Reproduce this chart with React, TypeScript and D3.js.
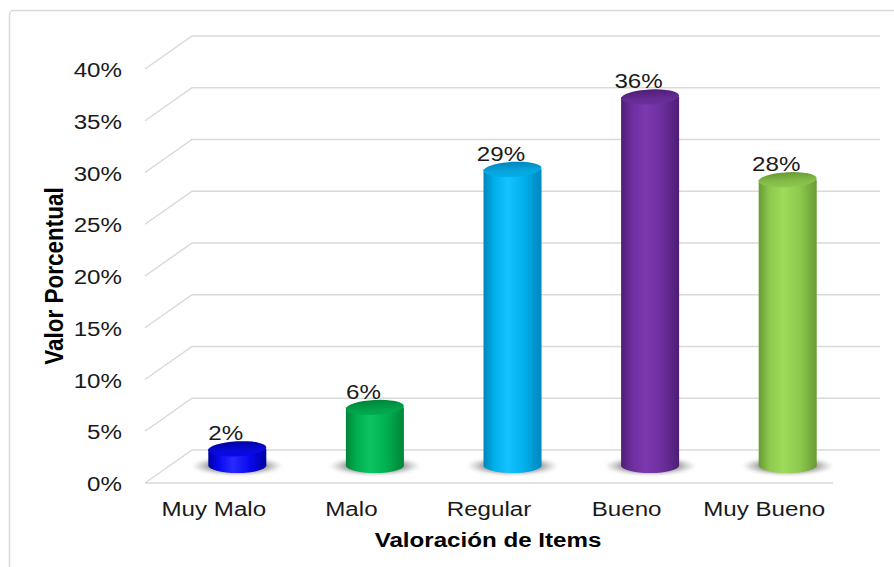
import React from 'react';
import * as d3 from 'd3';

const categories = ['Muy Malo', 'Malo', 'Regular', 'Bueno', 'Muy Bueno'];
const values = [2, 6, 29, 36, 28];
const valueLabels = ['2%', '6%', '29%', '36%', '28%'];
const ticks = [0, 5, 10, 15, 20, 25, 30, 35, 40];
const palette = [
  { dark: '#0000a0', base: '#0808ee', light: '#2a2aff', top: '#0a0ad8' },
  { dark: '#00843a', base: '#00ad4e', light: '#0cc462', top: '#00a04a' },
  { dark: '#0086bd', base: '#00aeea', light: '#14c2ff', top: '#08a4dc' },
  { dark: '#4e1d74', base: '#6c2e9c', light: '#7c38b0', top: '#652b94' },
  { dark: '#689a34', base: '#8cc84c', light: '#9edc5c', top: '#84bc48' },
];

const W = 894;
const H = 567;
const FONT = "'Liberation Sans', Arial, sans-serif";

const T = ({ x, y, anchor = 'middle', size = 21, bold = false, rotate = 0, fill = '#1a1a1a', children }: any) => (
  <text
    transform={`translate(${x},${y}) scale(1.15,1)${rotate ? ` rotate(${rotate})` : ''}`}
    textAnchor={anchor}
    fontSize={size}
    fontWeight={bold ? 'bold' : 'normal'}
    fontFamily={FONT}
    fill={fill}
  >
    {children}
  </text>
);

export default function App() {
  const frontLeft = 145;
  const frontRight = 833;
  const dx = 47;
  const dy = 33;
  const yFront = d3.scaleLinear().domain([0, 40]).range([483, 69]);
  const x = d3.scaleBand<string>().domain(categories).range([frontLeft, frontRight]);
  const bw = x.bandwidth();
  const barTop = d3.scaleLinear().domain([0, 40]).range([469.5, 469.5 - 414]);
  const baseY = 465.5;
  const r = 29;
  const ry = 7.5;

  return (
    <svg width={W} height={H} style={{ position: 'absolute', left: 0, top: 0 }}>
      <defs>
        {palette.map((c, i) => (
          <linearGradient key={i} id={`body${i}`} x1="0" x2="1" y1="0" y2="0">
            <stop offset="0" stopColor={c.dark} />
            <stop offset="0.18" stopColor={c.base} />
            <stop offset="0.42" stopColor={c.light} />
            <stop offset="0.72" stopColor={c.base} />
            <stop offset="1" stopColor={c.dark} />
          </linearGradient>
        ))}
        {palette.map((c, i) => (
          <linearGradient key={i} id={`top${i}`} x1="0" x2="0" y1="0" y2="1">
            <stop offset="0" stopColor={c.dark} />
            <stop offset="0.6" stopColor={c.top} />
            <stop offset="1" stopColor={c.base} />
          </linearGradient>
        ))}
        <radialGradient id="shadow" cx="0.5" cy="0.5" r="0.5">
          <stop offset="0" stopColor="#333" stopOpacity="0.9" />
          <stop offset="0.6" stopColor="#555" stopOpacity="0.6" />
          <stop offset="1" stopColor="#888" stopOpacity="0" />
        </radialGradient>
        <filter id="blur" x="-20%" y="-50%" width="140%" height="200%">
          <feGaussianBlur stdDeviation="1.5" />
        </filter>
      </defs>
      <rect x={9.5} y={10.5} width={W + 20} height={H + 20} rx={4} fill="#fff" stroke="#d9d9d9" strokeWidth={1.5} />

      {/* gridlines: side wall diagonals + back wall */}
      {ticks.map((t) => (
        <g key={t}>
          <polyline
            points={`${frontLeft},${yFront(t)} ${frontLeft + dx},${yFront(t) - dy} ${t === 0 ? frontRight + dx : 880},${yFront(t) - dy}`}
            fill="none"
            stroke="#d9d9d9"
            strokeWidth={1.5}
          />
        </g>
      ))}
      {/* floor front edge */}
      <line x1={frontLeft} x2={frontRight} y1={yFront(0)} y2={yFront(0)} stroke="#d9d9d9" strokeWidth={1.5} />

      {/* tick labels */}
      {ticks.map((t) => (
        <T key={t} x={122} y={yFront(t) + 8} anchor="end">{`${t}%`}</T>
      ))}

      {/* shadows */}
      {categories.map((c, i) => {
        const cx = (x(c) as number) + bw / 2 + dx / 2;
        return <ellipse key={c} cx={cx} cy={baseY + 0.5} rx={46} ry={9.5} fill="url(#shadow)" filter="url(#blur)" />;
      })}

      {/* cylinders */}
      {categories.map((c, i) => {
        const cx = (x(c) as number) + bw / 2 + dx / 2;
        const ty = barTop(values[i]);
        const d = `M${cx - r},${ty} L${cx - r},${baseY} A${r},${ry} 0 0 0 ${cx + r},${baseY} L${cx + r},${ty} Z`;
        return (
          <g key={c}>
            <path d={d} fill={`url(#body${i})`} />
            <ellipse cx={cx} cy={ty} rx={r} ry={ry} fill={`url(#top${i})`} transform={`rotate(-3,${cx},${ty})`} />
            <T x={cx - 11.5} y={ty - ry - 1}>{valueLabels[i]}</T>
          </g>
        );
      })}

      {/* category labels */}
      {categories.map((c) => (
        <T key={c} x={(x(c) as number) + bw / 2} y={516}>{c}</T>
      ))}

      {/* axis titles */}
      <T x={488} y={547} bold fill="#000">Valoración de Items</T>
      <T x={63} y={276} bold size={22.5} rotate={-90} fill="#000">Valor Porcentual</T>
    </svg>
  );
}
